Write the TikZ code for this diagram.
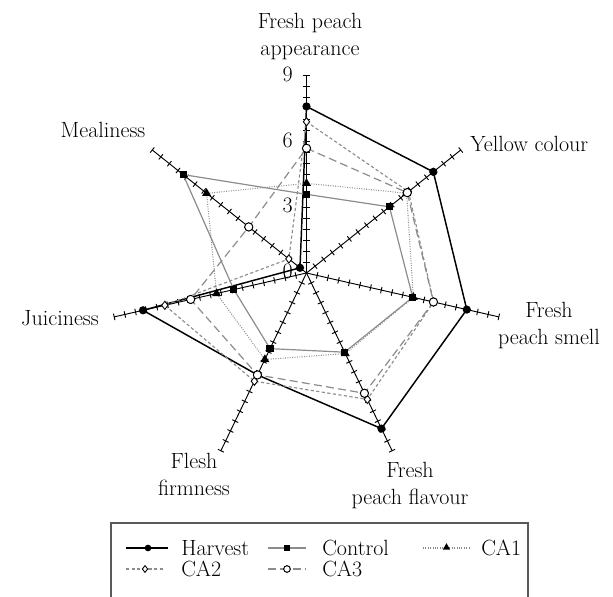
\documentclass[tikz,border=0pt]{standalone}
\usepackage{fontspec}
\usetikzlibrary{shapes.geometric}
\definecolor{serieGray}{gray}{0.55}
\definecolor{boxGray}{gray}{0.35}
\begin{document}
\begin{tikzpicture}[x=0.75pt,y=0.75pt,
  every node/.style={font=\fontsize{16.5}{20.3}\selectfont, inner sep=0pt},
  axisline/.style={black, line width=0.7pt},
  harv/.style={black, line width=1.1pt},
  ctrl/.style={serieGray, line width=0.9pt},
  caone/.style={serieGray, line width=0.8pt, dash pattern=on 0.7pt off 1.1pt},
  catwo/.style={serieGray, line width=0.85pt, dash pattern=on 2.4pt off 1.8pt},
  cathree/.style={serieGray, line width=0.9pt, dash pattern=on 6pt off 3.2pt},
  mharv/.style={circle, fill=black, minimum size=6.2pt},
  mctrl/.style={rectangle, fill=black, minimum size=5.4pt},
  mcaone/.style={regular polygon, regular polygon sides=3, fill=black, minimum size=7.8pt},
  mcatwo/.style={diamond, draw=black, fill=white, line width=0.65pt, minimum width=5pt, minimum height=6.4pt},
  mcathree/.style={circle, draw=black, fill=white, line width=0.75pt, minimum size=6.2pt},
  lharv/.style={mharv, minimum size=5pt},
  lctrl/.style={mctrl, minimum size=4.4pt},
  lcaone/.style={mcaone, minimum size=6.4pt},
  lcatwo/.style={mcatwo, minimum width=4.2pt, minimum height=5.4pt},
  lcathree/.style={mcathree, minimum size=5pt},
  axlabel/.style={align=center}
]
\useasboundingbox (0,0) rectangle (613,596);
\coordinate (O) at (306.5,323);

\begin{scope}[shift={(O)}, x=16.44pt, y=16.44pt]
  % axes with ticks
  \foreach \i in {0,...,6} {
    \begin{scope}[rotate={90-\i*360/7}]
      \draw[axisline] (0,0) -- (9,0);
      \foreach \t in {0.5,1,...,9} \draw[axisline] (\t,-0.15) -- (\t,0.15);
    \end{scope}
  }
  % data points
  \foreach \v [count=\i from 0] in {7.6,7.4,7.5,7.88,5.16,7.65,0.38}
    \coordinate (H\i) at ({90-\i*360/7}:\v);
  \foreach \v [count=\i from 0] in {3.59,4.84,4.97,4.01,3.83,3.4,7.2}
    \coordinate (C\i) at ({90-\i*360/7}:\v);
  \foreach \v [count=\i from 0] in {4.09,5.84,5.0,4.08,4.38,4.21,5.83}
    \coordinate (P\i) at ({90-\i*360/7}:\v);
  \foreach \v [count=\i from 0] in {6.9,5.95,5.95,6.4,5.48,6.63,1.03}
    \coordinate (Q\i) at ({90-\i*360/7}:\v);
  \foreach \v [count=\i from 0] in {5.69,5.88,5.94,6.09,5.16,5.42,3.37}
    \coordinate (R\i) at ({90-\i*360/7}:\v);
\end{scope}

% series polygons
\draw[harv] (H0) -- (H1) -- (H2) -- (H3) -- (H4) -- (H5) -- (H6) -- cycle;
\draw[ctrl] (C0) -- (C1) -- (C2) -- (C3) -- (C4) -- (C5) -- (C6) -- cycle;
\draw[caone] (P0) -- (P1) -- (P2) -- (P3) -- (P4) -- (P5) -- (P6) -- cycle;
\draw[catwo] (Q0) -- (Q1) -- (Q2) -- (Q3) -- (Q4) -- (Q5) -- (Q6) -- cycle;
\draw[cathree] (R0) -- (R1) -- (R2) -- (R3) -- (R4) -- (R5) -- (R6) -- cycle;

% markers
\foreach \i in {0,...,6} \node[mharv] (mH\i) at (H\i) {};
\foreach \i in {0,...,6} \node[mctrl] (mC\i) at (C\i) {};
\foreach \i in {0,...,6} \node[mcaone] (mP\i) at (P\i) {};
\foreach \i in {0,...,6} \node[mcatwo] (mQ\i) at (Q\i) {};
\foreach \i in {0,...,6} \node[mcathree] (mR\i) at (R\i) {};

% scale numbers
\node[anchor=east] (n9) at (293,521.8) {9};
\node[anchor=east] (n6) at (293,456.0) {6};
\node[anchor=east] (n3) at (293,390.3) {3};
\node[anchor=east] (n0) at (293,324.5) {0};

% axis labels
\node[axlabel, anchor=north] (lapp) at (310,583.5) {Fresh peach\\appearance};
\node[anchor=base west] (lyel) at (470,444) {Yellow colour};
\node[axlabel, anchor=north] (lsme) at (549,294) {Fresh\\peach smell};
\node[axlabel, anchor=north] (lfla) at (410,134) {Fresh\\peach flavour};
\node[axlabel, anchor=north] (lfir) at (194,143) {Flesh\\firmness};
\node[anchor=base] (ljui) at (60,270) {Juiciness};
\node[anchor=base] (lmea) at (103,458) {Mealiness};

% legend
\draw[boxGray, line width=1pt] (111,-3) rectangle (528,73);
\coordinate (LHa) at (126,48); \coordinate (LHb) at (168,48);
\draw[harv] (LHa) -- (LHb);
\node[lharv] (LHm) at (148,48) {};
\node[anchor=west] (LHt) at (181,48) {Harvest};
\coordinate (LCa) at (268,48); \coordinate (LCb) at (306,48);
\draw[ctrl] (LCa) -- (LCb);
\node[lctrl] (LCm) at (287,48) {};
\node[anchor=west] (LCt) at (322,48) {Control};
\coordinate (LPa) at (423,48); \coordinate (LPb) at (470,48);
\draw[caone] (LPa) -- (LPb);
\node[lcaone] (LPm) at (446.5,48.5) {};
\node[anchor=west] (LPt) at (481,48) {CA1};
\coordinate (LQa) at (126,27); \coordinate (LQb) at (163,27);
\draw[catwo] (LQa) -- (LQb);
\node[lcatwo] (LQm) at (145,27) {};
\node[anchor=west] (LQt) at (181,27) {CA2};
\coordinate (LRa) at (268,27); \coordinate (LRb) at (306,27);
\draw[cathree] (LRa) -- (LRb);
\node[lcathree] (LRm) at (287,27) {};
\node[anchor=west] (LRt) at (322,27) {CA3};
\end{tikzpicture}
\end{document}
